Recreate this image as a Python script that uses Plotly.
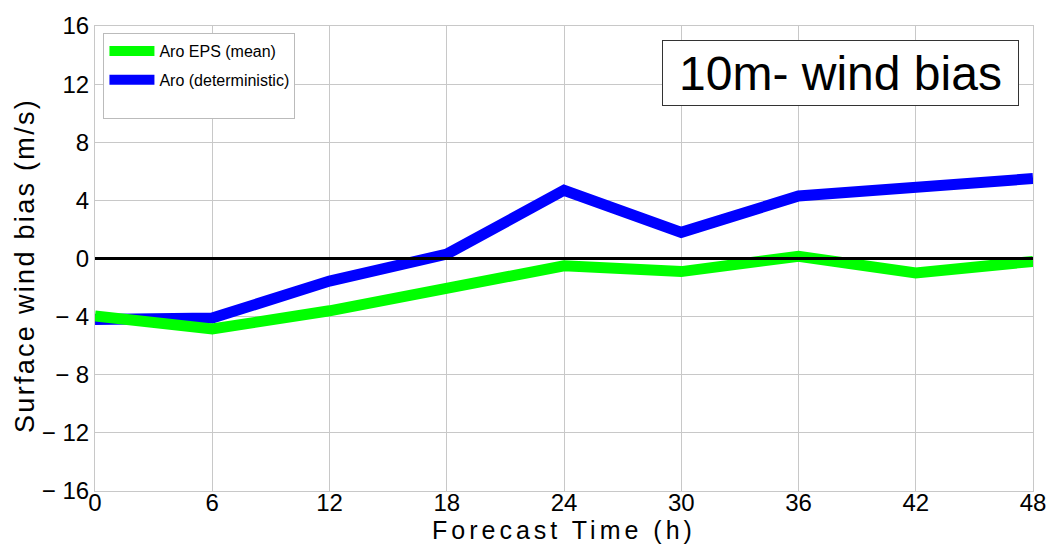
import plotly.graph_objects as go

hours = [0, 6, 12, 18, 24, 30, 36, 42, 48]
eps_mean = [-3.95, -4.85, -3.6, -2.1, -0.5, -0.9, 0.15, -1.0, -0.2]
deterministic = [-4.2, -4.1, -1.55, 0.3, 4.7, 1.8, 4.3, 4.9, 5.5]
y_ticks = [-16, -12, -8, -4, 0, 4, 8, 12, 16]
y_ticklabels = ["\u2212 16", "\u2212 12", "\u2212 8", "\u2212 4", "0", "4", "8", "12", "16"]
x_ticks = [0, 6, 12, 18, 24, 30, 36, 42, 48]

fig = go.Figure()
fig.add_trace(go.Scatter(x=hours, y=deterministic, mode="lines", name="Aro (deterministic)<br> ",
                         line=dict(color="#0000ff", width=11), legendrank=2, legendgroup="b"))
fig.add_trace(go.Scatter(x=hours, y=eps_mean, mode="lines", name="Aro EPS (mean)",
                         line=dict(color="#00ff00", width=11), legendrank=1, legendgroup="a"))
fig.add_trace(go.Scatter(x=[0, 48], y=[0, 0], mode="lines", showlegend=False,
                         line=dict(color="black", width=3)))

fig.update_layout(
    width=1048, height=544,
    margin=dict(l=95, r=15, t=26, b=53),
    paper_bgcolor="white", plot_bgcolor="white",
    font=dict(family="Liberation Sans, Arial, sans-serif", color="black"),
    showlegend=True,
    legend=dict(x=0.009, y=0.985, xanchor="left", yanchor="top",
                bgcolor="white", bordercolor="#bbbbbb", borderwidth=1,
                font=dict(size=16), itemwidth=45, tracegroupgap=5,
                valign="top", traceorder="grouped"),
    xaxis=dict(range=[0, 48], tickvals=x_ticks, ticktext=[str(v) for v in x_ticks],
               showgrid=True, gridcolor="#c8c8c8", gridwidth=1, automargin=False,
               showline=True, linecolor="#c8c8c8", mirror=True, zeroline=False,
               tickfont=dict(size=24), ticks="", ticklen=0, ticklabelstandoff=-10),
    yaxis=dict(range=[-16, 16], tickvals=y_ticks, ticktext=y_ticklabels,
               showgrid=True, gridcolor="#c8c8c8", gridwidth=1, automargin=False,
               showline=True, linecolor="#c8c8c8", mirror=True, zeroline=False,
               tickfont=dict(size=24), ticks=""),
)

fig.add_annotation(xref="paper", yref="paper", x=0.5, y=-0.0845, xanchor="center", yanchor="middle",
                   text='<span style="letter-spacing:4px">Forecast Time (h)</span>', showarrow=False,
                   font=dict(size=25, color="black"))
fig.add_annotation(xref="paper", yref="paper", x=-0.0746, y=0.484, xanchor="center", yanchor="middle",
                   text='<span style="letter-spacing:2.3px">Surface wind bias (m/s)</span>', showarrow=False,
                   textangle=-90, font=dict(size=27, color="black"))
fig.add_annotation(xref="paper", yref="paper", x=0.985, y=0.97, xanchor="right", yanchor="top",
                   text="10m- wind bias", showarrow=False,
                   font=dict(size=48, color="black"),
                   bgcolor="white", bordercolor="#333333", borderwidth=1,
                   width=353, height=62, align="center")

fig.write_html("out.html")
